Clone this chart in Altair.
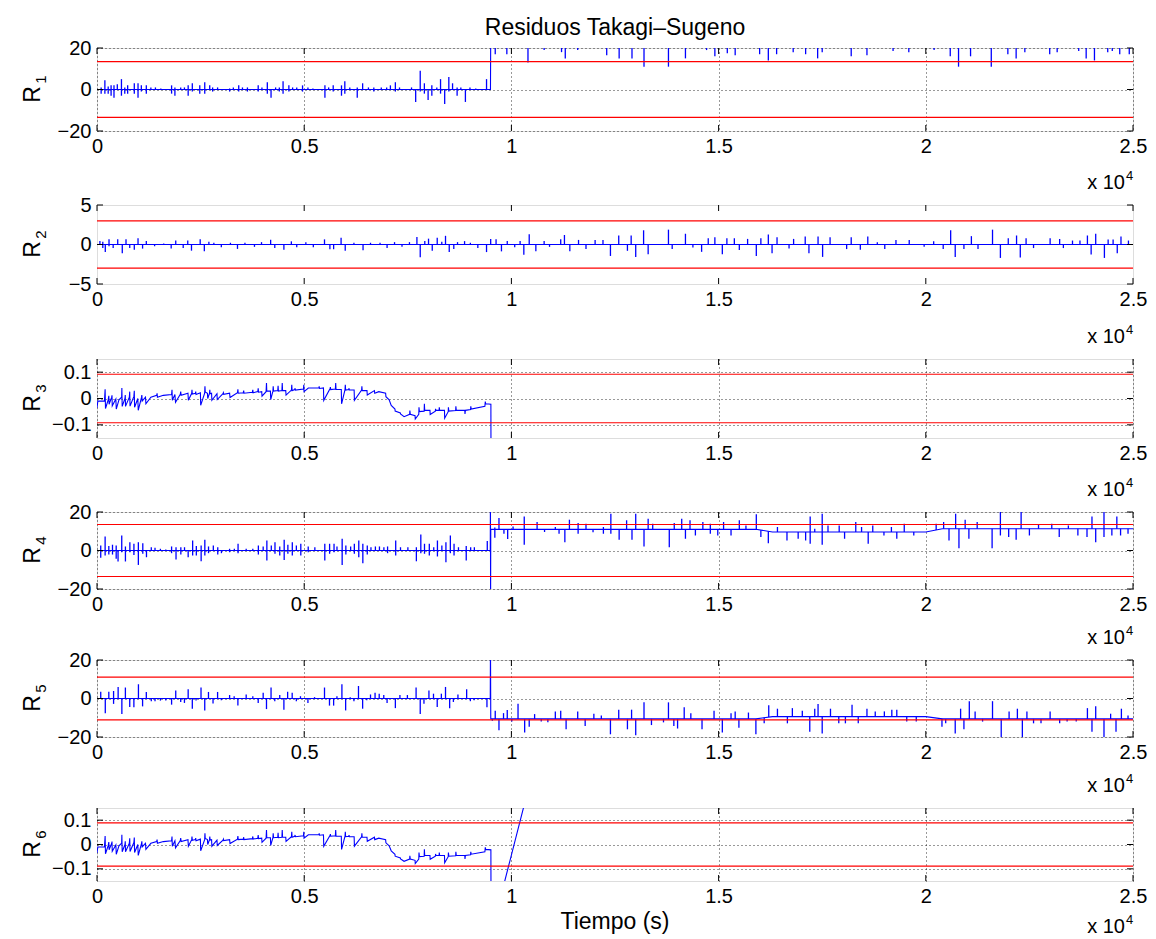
import altair as alt
import numpy as np
import pandas as pd

# ---------------- data ----------------
X_TICKS = [0, 5000, 10000, 15000, 20000, 25000]

# R1: baseline and spikes (t [s], value)
R1_BASE = [(0, 0), (9495, 0), (9500, 22), (25000, 22)]
R1_SPIKES = [
    (100, 1), (100, -2), (190, 4.5), (190, -2), (270, 1.5), (270, -2), (340, 2), (340, -3),
    (410, 2), (410, -4), (490, 2.5), (590, 5), (590, -3), (670, 1), (670, -2), (740, 2), (740, -2),
    (900, 3), (900, -2), (990, 3), (990, -4), (1070, 2), (1070, -1), (1190, 2), (1190, -2),
    (1300, 1), (1410, 1), (1540, 0.5), (1800, 2), (1800, -2), (1880, 1), (1880, -3), (2020, 1),
    (2110, 1), (2200, 2), (2200, -3), (2300, 3), (2300, -1), (2480, 2), (2480, -2), (2600, 3.5),
    (2600, -2), (2720, 2), (2790, 1), (2790, -1), (2910, 1), (3200, 0.5), (3200, -1), (3290, 1),
    (3420, 2), (3420, -1), (3510, 1), (3630, 1), (3630, -1), (3890, 2), (3890, -1), (3980, 1),
    (4110, 3.5), (4110, -2), (4200, -4), (4310, 1), (4400, 1), (4400, -1), (4490, 4), (4490, -2),
    (4630, 2), (4630, -1), (4720, 1), (4820, 1), (4960, 2), (4960, -1), (5090, 1), (5210, 0.5),
    (5500, 2), (5500, -4), (5590, 1), (5700, 2), (5700, -1), (5900, 2), (5900, -3), (5980, 4),
    (5980, -2), (6100, 1), (6280, 1), (6280, -4), (6410, 3), (6550, 1), (6680, 1), (6680, -1),
    (6860, 1), (6990, 1), (7080, 2), (7200, 3.5), (7200, -1), (7300, 1), (7590, 1), (7690, -6),
    (7800, 9), (7800, -1), (7900, 3), (7900, -2), (7990, -5), (8080, 2), (8080, -3), (8200, 1),
    (8290, 5), (8290, -2), (8390, -7), (8490, 6), (8490, -1), (8580, 3), (8690, 1), (8690, -3),
    (8780, 1), (8890, -6), (9000, 1), (9140, 0.5), (9400, 5),
    (9610, 17), (9890, 17), (10400, 13), (10790, 19), (11210, 18), (11300, 15), (11600, 19),
    (12300, 16.5), (12600, 15), (12910, 15), (13200, 11), (13790, 11), (14200, 15), (14710, 19),
    (14910, 16), (15210, 17.5), (15400, 16.5), (15990, 17), (16200, 14), (16400, 17), (16800, 18),
    (17100, 17), (17390, 15), (17500, 18), (18200, 16), (18580, 16.5), (19210, 18.5), (19590, 18),
    (20200, 19), (20590, 16), (20790, 11), (21080, 16), (21580, 11), (21980, 17), (22180, 15),
    (22390, 18), (22990, 17), (23170, 18), (23690, 18.5), (23870, 15), (24070, 14), (24390, 18),
    (24500, 18.5), (24680, 17), (24910, 17),
]

# R2
R2_BASE = [(0, 0), (25000, 0)]
R2_SPIKES = [
    (70, 0.43), (140, 0.35), (140, -0.43), (200, -0.96), (290, 0.65), (290, -0.22), (390, -0.43),
    (500, 0.65), (610, -1.1), (700, 0.65), (790, -0.43), (900, -0.65), (990, 0.78), (1100, -0.52),
    (1190, 0.43), (1390, -0.22), (1610, 0.13), (1790, -0.52), (1900, 0.52), (2080, -0.43),
    (2190, 0.52), (2280, -0.78), (2490, 0.65), (2590, -0.87), (2700, 0.35), (2820, 0.22),
    (3000, -0.35), (3220, 0.22), (3390, -0.56), (3570, 0.22), (3800, -0.3), (3970, 0.3),
    (4190, 0.6), (4290, -0.43), (4510, -0.65), (4690, 0.4), (4820, -0.35), (5040, 0.3),
    (5220, -0.35), (5490, 0.65), (5620, -0.6), (5710, -0.6), (5890, 0.87), (5990, -0.78),
    (6200, 0.22), (6420, -0.74), (6600, 0.22), (6830, 0.22), (7000, -0.43), (7180, 0.3),
    (7360, -0.3), (7540, 0.3), (7720, 0.95), (7800, -1.6), (7910, 0.43), (8000, 0.74),
    (8090, -0.78), (8210, 0.87), (8320, 0.35), (8410, 1.1), (8500, -0.96), (8610, -0.56),
    (8700, 0.3), (8870, 0.43), (9010, 0.22), (9190, -0.43), (9400, -0.96), (9500, 0.7),
    (9630, 0.65), (9760, -0.87), (9900, 0.43), (10080, -0.35), (10210, 0.43), (10300, -1.3),
    (10430, 1.3), (10590, -0.87), (10790, 0.43), (10920, -0.3), (11190, 0.65), (11280, 1.2),
    (11410, -0.87), (11620, 0.58), (11800, -0.58), (12020, 0.58), (12210, 0.58), (12390, -1.45),
    (12590, 1.14), (12800, -0.8), (12890, 1.14), (13000, -1.57), (13190, 1.8), (13300, -1.23),
    (13790, 1.88), (13880, -0.58), (14200, 1.36), (14380, -0.37), (14590, -0.93), (14750, 0.8),
    (14910, 0.93), (15090, -1.23), (15200, 0.8), (15380, 0.8), (15500, -0.71), (15700, 0.71),
    (15910, -1.45), (16020, 0.8), (16200, 1.27), (16290, -1.1), (16410, 0.93), (16700, -0.5),
    (16810, 0.71), (17090, 1.0), (17180, -1.1), (17400, 1.0), (17510, -1.57), (17690, 0.93),
    (18090, -0.58), (18200, 0.93), (18420, -0.67), (18600, 1.0), (18830, 0.28), (19010, -0.58),
    (19280, 0.58), (19600, 0.58), (19960, -0.28), (20190, 0.41), (20420, -0.58), (20600, 1.8),
    (20710, -1.57), (20920, -0.58), (21100, 1.06), (21260, -0.58), (21610, 1.88), (21800, -1.7),
    (21990, 0.8), (22190, 1.14), (22280, -1.66), (22420, 0.8), (22600, -0.45), (23000, 0.8),
    (23230, 0.71), (23320, -0.45), (23540, 0.5), (23720, 0.5), (23900, 1.14), (23990, -1.27),
    (24100, 1.36), (24310, -1.7), (24400, 0.63), (24520, 0.63), (24620, -1.1), (24710, 1.0),
    (24890, 0.5),
]

# R3 (continuous trace)
R3_PTS = [
    (0, -0.035), (20, -0.010), (180, -0.010), (196, 0.035), (205, -0.038), (270, -0.005),
    (285, 0.010), (292, -0.022), (355, 0.005), (362, 0.012), (368, -0.028), (455, -0.002),
    (465, -0.040), (530, -0.005), (595, 0.005), (600, 0.040), (608, -0.030), (675, 0.000),
    (682, 0.013), (688, -0.030), (780, 0.005), (790, 0.026), (797, -0.029), (890, 0.008),
    (900, 0.029), (907, -0.033), (985, 0.000), (995, -0.045), (1075, 0.005), (1082, 0.013),
    (1090, -0.010), (1170, 0.005), (1180, -0.020), (1300, 0.005), (1440, 0.012), (1450, 0.020),
    (1458, 0.005), (1600, 0.012), (1800, 0.015), (1810, 0.033), (1818, -0.007), (1880, 0.015),
    (1895, -0.014), (2010, 0.016), (2020, 0.026), (2030, 0.012), (2195, 0.020), (2205, -0.007),
    (2285, 0.020), (2292, 0.033), (2300, 0.017), (2375, 0.020), (2382, 0.026), (2390, 0.015),
    (2495, 0.022), (2502, -0.026), (2598, 0.020), (2605, 0.046), (2612, 0.025), (2665, 0.020),
    (2672, 0.000), (2715, 0.020), (2722, 0.033), (2730, 0.018), (2765, 0.020), (2772, -0.007),
    (2895, 0.018), (2902, -0.004), (3040, 0.018), (3050, 0.022), (3058, 0.016), (3200, 0.020),
    (3210, 0.004), (3390, 0.022), (3400, 0.035), (3408, 0.020), (3530, 0.022), (3540, 0.030),
    (3548, 0.020), (3750, 0.024), (3760, 0.033), (3768, 0.022), (3880, 0.026), (3890, 0.039),
    (3898, 0.024), (3975, 0.026), (3982, 0.009), (4080, 0.026), (4090, 0.059), (4097, 0.028),
    (4185, 0.028), (4192, -0.004), (4245, 0.028), (4252, 0.046), (4260, 0.028), (4362, 0.030),
    (4370, 0.048), (4378, 0.028), (4462, 0.030), (4470, 0.059), (4478, 0.030), (4555, 0.030),
    (4562, 0.013), (4692, 0.032), (4700, 0.052), (4708, 0.030), (4772, 0.034), (4780, 0.039),
    (4788, 0.032), (4982, 0.036), (4990, 0.052), (4996, 0.026), (5100, 0.040), (5355, 0.040),
    (5362, 0.046), (5370, 0.038), (5465, 0.040), (5472, -0.007), (5625, 0.038), (5632, 0.043),
    (5640, 0.034), (5752, 0.036), (5760, 0.059), (5768, 0.034), (5895, 0.034), (5902, -0.020),
    (5985, 0.034), (5992, 0.052), (6000, 0.032), (6075, 0.034), (6082, 0.039), (6090, 0.032),
    (6205, 0.032), (6212, -0.007), (6385, 0.032), (6392, 0.046), (6400, 0.030), (6515, 0.030),
    (6522, 0.013), (6695, 0.030), (6702, 0.020), (6800, 0.026), (6965, 0.020), (6972, 0.007),
    (7050, -0.005), (7100, -0.026), (7190, -0.040), (7195, -0.048), (7320, -0.055),
    (7325, -0.059), (7410, -0.069), (7545, -0.060), (7550, -0.046), (7560, -0.060),
    (7675, -0.065), (7680, -0.078), (7765, -0.060), (7770, -0.033), (7780, -0.050),
    (7895, -0.048), (7900, -0.020), (7908, -0.045), (8035, -0.045), (8040, -0.061),
    (8165, -0.048), (8170, -0.039), (8178, -0.045), (8255, -0.045), (8260, -0.033),
    (8268, -0.045), (8385, -0.045), (8390, -0.075), (8475, -0.050), (8480, -0.033),
    (8490, -0.048), (8655, -0.046), (8660, -0.030), (8670, -0.045), (8875, -0.045),
    (8880, -0.059), (8890, -0.045), (9015, -0.042), (9020, -0.030), (9030, -0.040),
    (9360, -0.030), (9370, -0.012), (9380, -0.020), (9505, -0.022),
]
R3_AFTER = [(9510, -0.40), (25000, -0.40)]
R6_AFTER = [(9510, -0.37), (10500, 0.29), (25000, 0.29)]

# R4
R4_BASE = [(0, 0), (9490, 0), (9494, 30), (9498, -30), (9502, 11), (15900, 11), (16300, 9.6),
           (20000, 9.6), (20400, 11.3), (25000, 11.3)]
R4_SPIKES = [
    (90, 2.6), (90, -3.8), (196, 7.3), (196, -2.6), (285, 2.3), (285, -2.1), (374, 3.0),
    (374, -2.1), (463, 2.6), (463, -4.3), (508, -5.7), (597, 7.8), (597, -0.9), (686, 2.1),
    (686, -5.7), (793, 4.3), (793, -0.9), (891, 3.5), (891, -2.3), (998, 4.3), (998, -7.5),
    (1105, 3.8), (1105, -1.7), (1194, -3.5), (1310, 1.7), (1400, 1.4), (1530, 0.9), (1660, 0.5),
    (1800, 2.1), (1800, -1.4), (1907, 1.7), (1907, -4.7), (2023, 1.7), (2023, -2.1), (2112, 1.7),
    (2200, -3.5), (2308, 5.2), (2308, -2.6), (2397, 2.3), (2397, -2.6), (2513, 2.6), (2513, -5.6),
    (2602, 5.6), (2602, -2.6), (2691, 2.1), (2691, -1.4), (2807, 2.6), (2914, 1.7), (2914, -2.1),
    (3003, -1.4), (3199, 0.9), (3199, -0.9), (3314, 0.9), (3404, 3.5), (3404, -1.4), (3600, 0.9),
    (3760, 0.9), (3894, 2.6), (3894, -2.1), (4010, 2.1), (4099, 5.2), (4099, -5.2), (4206, 2.6),
    (4295, 4.3), (4295, -1.7), (4410, 2.1), (4410, -2.6), (4517, 5.6), (4517, -4.9), (4606, 3.0),
    (4606, -1.7), (4713, 4.3), (4713, -2.6), (4811, 2.6), (4918, 3.5), (4918, -2.6), (5097, 2.1),
    (5097, -0.9), (5257, 1.7), (5497, 3.5), (5497, -5.2), (5613, 3.5), (5613, -1.7), (5720, 3.5),
    (5720, -0.9), (5791, 2.1), (5916, 6.1), (5916, -7.5), (6005, 2.6), (6005, -2.1), (6121, 2.1),
    (6210, 3.5), (6210, -1.7), (6317, 5.2), (6317, -3.5), (6415, 3.5), (6415, -6.6), (6522, 2.6),
    (6522, -2.1), (6611, 1.7), (6718, 2.1), (6816, 2.1), (6923, 1.7), (7012, 2.1), (7012, -1.4),
    (7208, 5.2), (7208, -2.6), (7324, 1.7), (7502, 1.7), (7707, 1.7), (7707, -5.6), (7814, 8.3),
    (7814, -1.4), (7903, 3.5), (7903, -1.7), (8019, 3.5), (8019, -2.6), (8126, 1.7), (8215, 5.2),
    (8215, -3.1), (8322, 2.6), (8420, 4.3), (8420, -6.1), (8527, 7.8), (8527, -1.4), (8616, 3.5),
    (8616, -2.6), (8723, 1.7), (8910, 2.3), (8910, -5.2), (9017, 1.7), (9106, 1.7), (9418, 4.9),
    (9600, 12), (9600, 6.6), (9700, 16.9), (9820, 8.7), (9910, 6), (10040, 12.5), (10310, 17.7),
    (10310, 3), (10620, 14.8), (10800, 9.6), (11060, 12.2), (11150, 8.7), (11290, 4.3),
    (11400, 16), (11610, 14.3), (11610, 8.7), (11800, 13.9), (11970, 9.5), (12220, 12.2),
    (12220, 8.7), (12400, 19.1), (12400, 8.7), (12600, 5.6), (12780, 15.7), (12910, 5.6),
    (13000, 19.1), (13200, 2.1), (13300, 16.5), (13410, 13.9), (13810, 1.7), (13930, 14.3),
    (14110, 16.5), (14200, 6.1), (14310, 15.7), (14440, 7.8), (14620, 14.8), (14800, 13.9),
    (14800, 8.7), (14980, 7.8), (15120, 14.8), (15300, 7.8), (15500, 15.7), (15660, 13.0),
    (15910, 18.8), (16020, 7), (16200, 3.8), (16420, 12.2), (16650, 5.2), (16920, 6.1),
    (17100, 5.2), (17210, 17.7), (17210, 3.5), (17320, 11.3), (17500, 19.1), (17500, 3.0),
    (17640, 13.0), (17910, 13.0), (18040, 6.1), (18310, 14.8), (18450, 12.2), (18610, 3.5),
    (18720, 13.0), (18990, 7.8), (19170, 12.2), (19300, 6.1), (19480, 13.9), (19710, 7.8),
    (20250, 13.9), (20430, 14.8), (20560, 5.2), (20720, 19.1), (20800, 1.2), (20950, 16.0),
    (21040, 6.1), (21240, 14.8), (21600, 1.2), (21800, 21), (21800, 7.8), (22000, 7.0),
    (22180, 5.6), (22300, 21), (22500, 7.8), (22720, 13.4), (23040, 13.9), (23220, 7.0),
    (23440, 13.0), (23670, 7.8), (23890, 7.0), (24010, 17.7), (24100, 4.3), (24300, 21),
    (24300, 7.0), (24490, 7.8), (24610, 17.7), (24700, 7.8), (24880, 8.7),
]

# R5
R5_BASE = [(0, 0), (9490, 0), (9495, 30), (9502, -10.6), (15900, -10.6), (16300, -9.4),
           (20000, -9.4), (20400, -10.6), (25000, -10.6)]
R5_SPIKES = [
    (90, 3.5), (200, -7.6), (285, 3.5), (400, 3.9), (400, -2.8), (510, 6.0), (600, -8.1),
    (685, 5.7), (790, -4.4), (890, -4.6), (1000, 7.4), (1100, -4.1), (1190, 3.4), (1310, -1.4),
    (1400, -1.4), (1530, -1.1), (1660, -1.1), (1800, -3.2), (1900, 4.2), (2020, -1.8),
    (2110, -2.3), (2200, 4.8), (2300, -5.3), (2390, -1.1), (2510, 5.7), (2600, -6.2), (2690, 3.4),
    (2800, -2.6), (2910, 3.4), (3000, -0.9), (3200, 1.8), (3310, 1.2), (3400, -3.7), (3600, 2.1),
    (3760, 1.2), (3890, -2.3), (4010, 3.0), (4090, -5.5), (4200, 5.7), (4290, -1.4), (4410, 1.8),
    (4510, -5.8), (4600, 3.5), (4710, 3.0), (4810, -1.4), (4910, 1.2), (5090, -2.3), (5250, 0.7),
    (5490, 5.7), (5610, -3.7), (5710, -3.7), (5790, 1.2), (5910, 7.4), (6000, -6.2), (6110, 0.7),
    (6200, -1.4), (6310, 6.5), (6410, -5.3), (6510, -0.9), (6600, 2.1), (6710, 3.0), (6810, 2.5),
    (6920, 1.8), (7000, -2.3), (7200, -5.0), (7310, 1.8), (7490, 1.8), (7700, 5.7), (7800, -8.1),
    (7890, -2.7), (8010, 4.2), (8120, 2.5), (8210, -4.4), (8310, 2.5), (8410, 6.0), (8510, -5.0),
    (8600, -1.8), (8710, 2.1), (8920, 4.8), (9010, -1.4), (9100, -0.9), (9410, -4.6),
    (9540, -11.5), (9610, -6.4), (9700, -16.5), (9810, -7.6), (9900, -6.0), (10010, -12.0),
    (10160, -2.7), (10320, -17.7), (10430, -14.7), (10560, -8.1), (10720, -12.0), (10880, -12.4),
    (11060, -6.7), (11190, -6.4), (11320, -16.0), (11600, -6.7), (11780, -14.3), (11990, -7.9),
    (12170, -8.8), (12390, -18.6), (12590, -5.8), (12800, -16.0), (12900, -5.8), (13000, -19.1),
    (13200, -2.0), (13380, -13.8), (13670, -12.4), (13790, -2.0), (13920, -14.3), (14010, -15.6),
    (14170, -4.6), (14330, -7.6), (14600, -16.0), (14890, -6.4), (15090, -17.7), (15300, -7.6),
    (15400, -6.7), (15490, -15.2), (15720, -7.3), (15900, -18.6), (16100, -12.9), (16210, -3.5),
    (16420, -5.3), (16660, -12.9), (16780, -5.0), (17020, -6.4), (17200, -17.3), (17320, -5.3),
    (17400, -2.8), (17500, -18.2), (17700, -5.3), (17900, -12.9), (18060, -12.9), (18220, -3.2),
    (18370, -12.9), (18580, -5.3), (18780, -6.7), (19000, -6.7), (19180, -5.8), (19300, -5.8),
    (19540, -12.0), (19770, -12.0), (20390, -14.7), (20480, -12.9), (20710, -18.2), (20840, -5.3),
    (20920, -16.0), (21050, -1.4), (21190, -6.7), (21370, -12.0), (21610, -1.4), (21820, -20.5),
    (22010, -6.7), (22210, -5.3), (22330, -20.5), (22440, -6.7), (22600, -12.9), (22780, -12.9),
    (23000, -6.7), (23230, -12.9), (23410, -12.0), (23630, -12.0), (23900, -5.0), (24010, -17.3),
    (24100, -4.0), (24300, -20.5), (24460, -7.9), (24590, -17.3), (24720, -5.3), (24880, -8.8),
]

THRESHOLDS = [13.4, 3.0, 0.092, 13.5, 11.1, 0.089]
SUBS = ["1", "2", "3", "4", "5", "6"]

# ---------------- styling ----------------
W = 1036
HEIGHTS = [83, 79, 79, 77, 77, 73]
XLAB_OFF = [58, 59, 58, 55, 55, 52]   # baseline offset of the "x 10^4" note below each panel
BLUE = "#0000ff"
RED = "#ff0000"
FONT = "Liberation Sans"
FS = 20


def line_df(pts):
    d = pd.DataFrame(pts, columns=["t", "v"])
    d["i"] = range(len(d))
    return d


def spike_df(spikes, base):
    d = pd.DataFrame(spikes, columns=["t", "v"])
    bt = [p[0] for p in base]
    bv = [p[1] for p in base]
    d["b"] = np.interp(d["t"], bt, bv)
    return d


def text_layer(txt, x, y, size, align="center", baseline="middle", angle=0, opacity=1):
    kw = dict(align=align, baseline=baseline, fontSize=size, font=FONT, color="black",
              opacity=opacity)
    if angle:
        kw["angle"] = angle
    return alt.Chart(pd.DataFrame({"s": [txt]})).mark_text(**kw).encode(
        x=alt.value(x), y=alt.value(y), text="s:N")


def panel(k, ydom, yticks, line_pts, spikes=None, base=None, grid=True):
    H = HEIGHTS[k]
    thr = THRESHOLDS[k]
    off = XLAB_OFF[k]
    xenc = alt.X("t:Q", scale=alt.Scale(domain=[0, 25000], nice=False, zero=False),
                 axis=alt.Axis(values=X_TICKS, labelExpr="datum.value / 10000", grid=grid,
                               gridColor="black", gridDash=[1, 3], gridOpacity=0.8,
                               ticks=False, domain=False, title=None, labelFontSize=FS,
                               labelFont=FONT, labelColor="black", labelPadding=5,
                               labelFlush=False))
    yenc = alt.Y("v:Q", scale=alt.Scale(domain=ydom, nice=False, zero=False),
                 axis=alt.Axis(values=yticks, format=".2~f", grid=grid, gridColor="black",
                               gridDash=[1, 3], gridOpacity=0.8, ticks=False, domain=False,
                               title=None, labelFontSize=FS, labelFont=FONT,
                               labelColor="black", labelPadding=6))
    layers = [
        alt.Chart(line_df(line_pts)).mark_line(color=BLUE, strokeWidth=1.1, clip=True).encode(
            x=xenc, y=yenc, order="i:Q")
    ]
    if spikes is not None:
        layers.append(
            alt.Chart(spike_df(spikes, base)).mark_rule(color=BLUE, strokeWidth=1.3, clip=True)
            .encode(x=xenc, y=yenc, y2="b:Q"))
    layers.append(
        alt.Chart(pd.DataFrame({"v": [thr, -thr]})).mark_rule(color=RED, strokeWidth=1.2)
        .encode(y=yenc))
    xt = pd.DataFrame({"t": X_TICKS})
    yt = pd.DataFrame({"v": yticks})
    layers += [
        alt.Chart(xt).mark_rule(color="black").encode(x=xenc, y=alt.value(H), y2=alt.value(H - 6)),
        alt.Chart(xt).mark_rule(color="black").encode(x=xenc, y=alt.value(0), y2=alt.value(6)),
        alt.Chart(yt).mark_rule(color="black").encode(y=yenc, x=alt.value(0), x2=alt.value(6)),
        alt.Chart(yt).mark_rule(color="black").encode(y=yenc, x=alt.value(W), x2=alt.value(W - 6)),
        text_layer("x 10", W - 8, H + off, 20, align="right", baseline="alphabetic"),
        text_layer("4", W - 7, H + off - 9, 13, align="left", baseline="alphabetic"),
        text_layer("R", -64, H / 2 + 5, 23, angle=270),
        text_layer(SUBS[k], -56, H / 2 - 10, 15, angle=270),
        # invisible spacer so every panel has the same extent above its frame
        text_layer("0", -30, 0, FS, opacity=0),
    ]
    if k == 0:
        layers.append(text_layer("Residuos Takagi\u2013Sugeno", W / 2, -20, 23))
    if k == 5:
        layers.append(text_layer("Tiempo (s)", W / 2, H + 41, 23))
    return alt.layer(*layers).properties(width=W, height=H)


panels = [
    panel(0, [-20, 20], [-20, 0, 20], R1_BASE, R1_SPIKES, R1_BASE),
    panel(1, [-5, 5], [-5, 0, 5], R2_BASE, R2_SPIKES, R2_BASE, grid=False),
    panel(2, [-0.15, 0.15], [-0.1, 0, 0.1], R3_PTS + R3_AFTER),
    panel(3, [-20, 20], [-20, 0, 20], R4_BASE, R4_SPIKES, R4_BASE),
    panel(4, [-20, 20], [-20, 0, 20], R5_BASE, R5_SPIKES, R5_BASE),
    panel(5, [-0.15, 0.15], [-0.1, 0, 0.1], R3_PTS + R6_AFTER),
]

chart = alt.vconcat(*panels, spacing=0).properties(
    padding={"left": 13, "top": 8, "right": 0, "bottom": 0}
).configure_view(stroke="black", strokeWidth=1).configure(background="white")

chart.save("out.html", embed_options={"renderer": "svg", "actions": False})
